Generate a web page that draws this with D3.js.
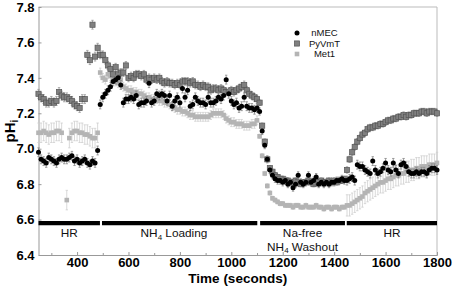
<!DOCTYPE html>
<meta charset="utf-8">
<style>

body {
  margin: 0;
  background: #fff;
}

svg {
  font-family: "Liberation Sans", Arial, sans-serif;
}

.axis text {
  font-family: "Liberation Sans", Arial, sans-serif;
  font-size: 13px;
  font-weight: bold;
  fill: #000;
}

.axis path, .axis line {
  stroke: #999;
}

</style>
<body>
<script src="https://d3js.org/d3.v7.min.js"></script>
<script>

var width = 454;
var height = 288;
var margin = {top: 7, right: 17, bottom: 33, left: 38.5};

// one reading every 10 s, starting at 250 s
var tStart = 250;
var tStep = 10;

// experiment phases (seconds)
var phaseNames = [["HR"], ["NH4 Loading"], ["Na-free", "NH4 Washout"], ["HR"]];
var phaseStart = [250, 497, 1112, 1449];
var phaseEnd = [489, 1101, 1442, 1800];
var phaseLabelAt = [370, 777, 1277, 1625];

var xTicks = [400, 600, 800, 1000, 1200, 1400, 1600, 1800];
var xMinor = [300, 500, 700, 900, 1100, 1300, 1500, 1700];
var yTicks = [6.4, 6.6, 6.8, 7.0, 7.2, 7.4, 7.6, 7.8];

// error bar size per phase segment (pH units)
var errBreaks = [485, 1105, 1445];
var nmecErr = [0.025, 0.025, 0.02, 0.025];
var pyvmtErr = [0.025, 0.022, 0.015, 0.018];
var met1Err = [0.055, 0.025, 0.012, 0.06];

var nmec = [
  // HR 250-480
  6.98, 6.94, 6.93, 6.92, 6.95, 6.94, 6.93, 6.92, 6.94, 6.95, 6.94, 6.94,
  6.95, 6.96, 6.93, 6.94, 6.92, 6.93, 6.94, 6.92, 6.91, 6.93, 6.92, 6.99,
  // NH4 loading 490-1100
  7.25, 7.29, 7.31, 7.33, 7.35, 7.38, 7.39, 7.40, 7.36, 7.26,
  7.28, 7.28, 7.29, 7.28, 7.30, 7.25, 7.26, 7.26, 7.27, 7.37,
  7.26, 7.27, 7.31, 7.30, 7.31, 7.30, 7.27, 7.30, 7.24, 7.27,
  7.29, 7.26, 7.34, 7.29, 7.33, 7.24, 7.25, 7.29, 7.27, 7.26,
  7.26, 7.25, 7.29, 7.26, 7.26, 7.27, 7.29, 7.28, 7.30, 7.39,
  7.31, 7.27, 7.25, 7.26, 7.23, 7.24, 7.29, 7.24, 7.23, 7.23,
  7.22, 7.23,
  // washout 1110-1440
  7.21, 7.10, 7.02, 6.94, 6.88, 6.85, 6.83, 6.82, 6.82, 6.81,
  6.82, 6.80, 6.81, 6.78, 6.80, 6.85, 6.81, 6.80, 6.81, 6.85,
  6.81, 6.82, 6.84, 6.80, 6.81, 6.80, 6.81, 6.80, 6.81, 6.81,
  6.82, 6.82, 6.83, 6.82,
  // HR 1450-1800
  6.82, 6.83, 6.84, 6.82, 6.91, 6.90, 6.90, 6.88, 6.87, 6.86,
  6.93, 6.88, 6.86, 6.87, 6.89, 6.92, 6.88, 6.87, 6.92, 6.88,
  6.86, 6.91, 6.92, 6.90, 6.87, 6.86, 6.86, 6.87, 6.86, 6.87,
  6.87, 6.86, 6.88, 6.89, 6.89, 6.88
];

var pyvmt = [
  7.31, 7.29, 7.28, 7.26, 7.26, 7.27, 7.26, 7.27, 7.32, 7.30, 7.29, 7.29,
  7.28, 7.27, 7.25, 7.24, 7.23, 7.28, 7.28, 7.53, 7.50, 7.70, 7.52, 7.57,
  7.53, 7.53, 7.50, 7.47, 7.45, 7.42, 7.46, 7.42, 7.43, 7.43,
  7.47, 7.40, 7.41, 7.40, 7.42, 7.42, 7.41, 7.42, 7.39, 7.40,
  7.39, 7.40, 7.39, 7.40, 7.38, 7.37, 7.38, 7.37, 7.37, 7.36,
  7.37, 7.36, 7.38, 7.38, 7.38, 7.37, 7.38, 7.36, 7.36, 7.35,
  7.36, 7.35, 7.35, 7.33, 7.34, 7.34, 7.33, 7.34, 7.33, 7.32,
  7.32, 7.33, 7.32, 7.33, 7.34, 7.35, 7.36, 7.33, 7.31, 7.30,
  7.29, 7.28,
  7.26, 7.13, 7.04, 6.94, 6.89, 6.87, 6.85, 6.84, 6.83, 6.83,
  6.82, 6.82, 6.81, 6.81, 6.82, 6.81, 6.80, 6.81, 6.81, 6.82,
  6.81, 6.80, 6.81, 6.81, 6.82, 6.81, 6.81, 6.82, 6.81, 6.82,
  6.81, 6.82, 6.82, 6.83,
  6.88, 6.94, 6.98, 7.01, 7.04, 7.06, 7.08, 7.09, 7.11, 7.12,
  7.12, 7.13, 7.13, 7.14, 7.14, 7.15, 7.16, 7.16, 7.17, 7.17,
  7.18, 7.18, 7.19, 7.18, 7.19, 7.19, 7.20, 7.20, 7.20, 7.21,
  7.21, 7.20, 7.21, 7.21, 7.21, 7.20
];

var met1 = [
  7.09, 7.09, 7.10, 7.09, 7.08, 7.09, 7.09, 7.10, 7.10, 7.09, null, 6.71,
  7.06, 7.09, 7.10, 7.10, 7.09, 7.09, 7.08, 7.08, 7.07, 7.06, 7.06, 7.09,
  7.43, 7.40, 7.39, 7.42, 7.41, 7.40, 7.38, 7.37, 7.39, 7.35,
  7.34, 7.33, 7.33, 7.32, 7.32, 7.31, 7.31, 7.30, 7.29, 7.29,
  7.28, 7.28, 7.28, 7.27, 7.27, 7.26, 7.26, 7.25, 7.24, 7.23,
  7.22, 7.22, 7.21, 7.21, 7.20, 7.19, 7.19, 7.18, 7.18, 7.18,
  7.18, 7.18, 7.18, 7.19, 7.20, 7.20, 7.20, 7.20, 7.19, 7.17,
  7.16, 7.15, 7.15, 7.14, 7.14, 7.14, 7.13, 7.13, 7.13, 7.14,
  7.14, 7.16,
  7.07, 6.96, 6.86, 6.79, 6.75, 6.72, 6.71, 6.70, 6.69, 6.69,
  6.68, 6.68, 6.68, 6.67, 6.68, 6.68, 6.67, 6.67, 6.68, 6.67,
  6.67, 6.67, 6.68, 6.67, 6.67, 6.66, 6.67, 6.67, 6.66, 6.67,
  6.67, 6.66, 6.67, 6.67,
  6.68, 6.68, 6.69, 6.70, 6.71, 6.72, 6.73, 6.75, 6.76, 6.77,
  6.78, 6.79, 6.80, 6.81, 6.81, 6.82, 6.83, 6.83, 6.84, 6.85,
  6.85, 6.86, 6.86, 6.87, 6.87, 6.88, 6.88, 6.89, 6.89, 6.90,
  6.90, 6.90, 6.91, 6.91, 6.91, 6.92
];

// drawing order: Met1 at the back, nMEC on top
var series = [
  {name: "Met1", values: met1, err: met1Err, shape: "square", size: 4.6, fill: "#b4b4b4", stroke: "none", errColor: "#cfcfcf"},
  {name: "PyVmT", values: pyvmt, err: pyvmtErr, shape: "square", size: 5.2, fill: "#808080", stroke: "#555", errColor: "#999"},
  {name: "nMEC", values: nmec, err: nmecErr, shape: "circle", size: 5, fill: "#000", stroke: "none", errColor: "#888"}
];

var x = d3.scaleLinear()
    .domain([250, 1800])
    .range([margin.left, width - margin.right]);

var y = d3.scaleLinear()
    .domain([6.4, 7.8])
    .range([height - margin.bottom, margin.top]);

var svg = d3.select("body").append("svg")
    .attr("width", width)
    .attr("height", height);

// light frame on top and right
svg.append("path")
    .attr("d", `M${x(250)},${y(7.8)}H${x(1800)}V${y(6.4)}`)
    .attr("fill", "none")
    .attr("stroke", "#bbb");

svg.append("g")
    .attr("class", "axis")
    .attr("transform", `translate(0,${y(6.4)})`)
    .call(d3.axisBottom(x).tickValues(xMinor).tickFormat("").tickSizeInner(-2).tickSizeOuter(0));

svg.append("g")
    .attr("class", "axis")
    .attr("transform", `translate(0,${y(6.4)})`)
    .call(d3.axisBottom(x).tickValues(xTicks).tickFormat(d3.format("d"))
      .tickSizeInner(-3).tickSizeOuter(0).tickPadding(3));

svg.append("g")
    .attr("class", "axis")
    .attr("transform", `translate(${x(250)},0)`)
    .call(d3.axisLeft(y).tickValues(yTicks).tickFormat(d3.format(".1f"))
      .tickSizeInner(-3).tickSizeOuter(0).tickPadding(4));

// phase bars and labels
var barY = y(6.58);

svg.selectAll(".phase")
    .data(phaseStart)
  .enter().append("line")
    .attr("class", "phase")
    .attr("x1", d => x(d))
    .attr("x2", (d, i) => x(phaseEnd[i]))
    .attr("y1", barY)
    .attr("y2", barY)
    .attr("stroke", "#000")
    .attr("stroke-width", 4.3);

// one text per phase, extra lines as tspans; "NH4" gets a subscript 4
function addLabel(lines, tx, ty) {
  var t = svg.append("text")
      .attr("x", tx)
      .attr("y", ty)
      .attr("text-anchor", "middle")
      .attr("font-size", 11.8)
      .attr("fill", "#111");
  lines.forEach(function(line, j) {
    var parts = line.split("NH4");
    t.append("tspan")
        .attr("x", tx)
        .attr("y", ty + j * 13.5)
        .text(parts.length == 1 ? line : parts[0] + "NH");
    if (parts.length > 1) {
      t.append("tspan").attr("font-size", 8).attr("dy", 2.5).text("4");
      t.append("tspan").attr("dy", -2.5).text(parts[1]);
    }
  });
}

phaseNames.forEach(function(lines, i) {
  addLabel(lines, x(phaseLabelAt[i]), 237);
});

// markers
function drawMarker(sel, s) {
  if (s.shape == "circle") {
    sel.append("circle")
        .attr("cx", d => d.px)
        .attr("cy", d => d.py)
        .attr("r", s.size / 2)
        .attr("fill", s.fill);
  } else {
    sel.append("rect")
        .attr("x", d => d.px - s.size / 2)
        .attr("y", d => d.py - s.size / 2)
        .attr("width", s.size)
        .attr("height", s.size)
        .attr("fill", s.fill)
        .attr("stroke", s.stroke)
        .attr("stroke-width", 0.7);
  }
}

series.forEach(function(s) {
  var pts = s.values.map(function(v, i) {
    var t = tStart + i * tStep;
    return {t: t, v: v, e: s.err[d3.bisect(errBreaks, t)]};
  }).filter(d => d.v != null);

  var g = svg.append("g");

  g.selectAll("path")
      .data(pts)
    .enter().append("path")
      .attr("d", function(d) {
        var px = x(d.t), y0 = y(d.v - d.e), y1 = y(d.v + d.e);
        return `M${px},${y0}V${y1}M${px - 1.2},${y0}h2.4M${px - 1.2},${y1}h2.4`;
      })
      .attr("fill", "none")
      .attr("stroke", s.errColor)
      .attr("stroke-width", 0.8);

  var m = g.selectAll(".pt")
      .data(pts.map(d => ({px: x(d.t), py: y(d.v)})))
    .enter().append("g")
      .attr("class", "pt");

  drawMarker(m, s);
});

// legend
var legendOrder = [series[2], series[1], series[0]];

legendOrder.forEach(function(s, i) {
  var ly = 33 + i * 10.5;
  var lg = svg.append("g").datum({px: 297, py: ly});
  drawMarker(lg, s);
  svg.append("text")
      .attr("x", 324.5)
      .attr("y", ly + 3.3)
      .attr("text-anchor", "middle")
      .attr("font-size", 9.5)
      .attr("fill", "#111")
      .text(s.name);
});

// axis titles
svg.append("text")
    .attr("x", x(1025))
    .attr("y", 283)
    .attr("text-anchor", "middle")
    .attr("font-size", 13.5)
    .attr("font-weight", "bold")
    .text("Time (seconds)");

var yt = svg.append("text")
    .attr("transform", `translate(15,131) rotate(-90)`)
    .attr("text-anchor", "middle")
    .attr("font-size", 15)
    .attr("font-weight", "bold");

yt.append("tspan").text("pH");
yt.append("tspan").attr("font-size", 10).attr("dy", 3).text("i");

</script>
